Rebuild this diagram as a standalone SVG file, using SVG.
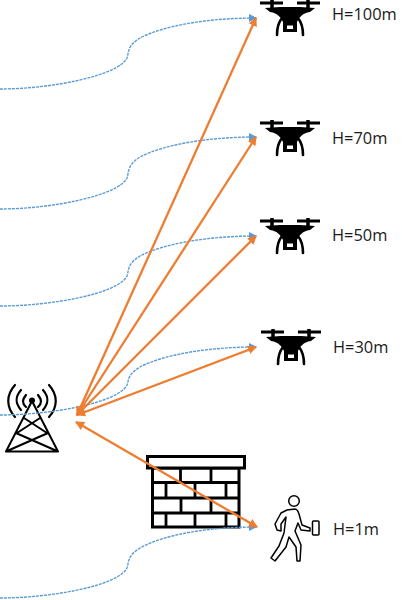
<svg xmlns="http://www.w3.org/2000/svg" width="402" height="600" viewBox="0 0 402 600">
<style>
text{font-family:"Open Sans","Liberation Sans",sans-serif;font-size:16.4px;fill:#1a1a1a}
.b{fill:none;stroke:#5b9bd5;stroke-width:1.4;stroke-dasharray:3 1;marker-end:url(#ab)}
.o{stroke:#ed7d31;stroke-width:2.300;marker-end:url(#ao);marker-start:url(#as)}
.k{fill:none;stroke:#000;stroke-linejoin:round;stroke-linecap:round}
</style>
<defs>
<marker id="ab" markerUnits="userSpaceOnUse" markerWidth="9" markerHeight="9" refX="7" refY="4" orient="auto"><path d="M0,0L8,4L0,8Z" fill="#5b9bd5"/></marker>
<marker id="ao" markerUnits="userSpaceOnUse" markerWidth="10" markerHeight="10" refX="8" refY="4.500" orient="auto"><path d="M0,0L9,4.500L0,9Z" fill="#ed7d31"/></marker>
<marker id="as" markerUnits="userSpaceOnUse" markerWidth="10" markerHeight="10" refX="1" refY="4.500" orient="auto"><path d="M9,0L0,4.500L9,9Z" fill="#ed7d31"/></marker>
<g id="drone">
<path d="M-30,3H-7M7,3H30" stroke="#000" stroke-width="2.800" fill="none"/>
<path d="M-18,0V11M18,0V11" stroke="#000" stroke-width="3.500" fill="none"/>
<path d="M-25,8L-10,7H10L25,8L20,12C12,13 9,18 7,22H-7C-9,18 -12,13 -20,12Z" fill="#000"/>
<path d="M-8,18C-12,23 -13,28 -13,35M8,18C12,23 13,28 13,35" class="k" stroke-width="2.600"/>
<path d="M-7,21H7V32H-7Z M-3,25.500V29H3V25.500Z" fill="#000" fill-rule="evenodd"/>
</g>
</defs>
<g id="tower">
<circle cx="32" cy="400.500" r="3" fill="#000"/>
<path class="k" stroke-width="2" d="M32,401L6,451.500H58ZM24,418L47,433M40,418L17,433M16,433L58,451.500M48,433L6,451.500"/>
<path class="k" stroke-width="2.200" d="M26,395C22,400 22,403 26,407M38,395C42,400 42,403 38,407M21,390C15,397 15,403 21,410M43,390C49,397 49,403 43,410M15,385C6,395 6,407 15,417M49,385C58,395 58,407 49,417"/>
</g>
<g id="wall">
<rect x="152.500" y="468" width="86.500" height="59" fill="#fff" stroke="#000" stroke-width="3"/>
<path fill="none" stroke="#000" stroke-width="2.800" d="M152,482.500H239M152,498H239M152,513H239M180.500,468V482M211,468V482M166,482V498M195,482V498M226,482V498M181,498V513M211,498V513M166,513V527M195,513V527M226,513V527"/>
<rect x="147.500" y="456.500" width="97" height="11.500" fill="#fff" stroke="#000" stroke-width="3"/>
</g>
<g id="connectors">
<path class="b" d="M0,89C50,89 118,76 127,58C129,52 127,46 140,38C165,25 210,18 256,18"/>
<path class="b" d="M0,209C50,209 118,196 127,178C129,172 127,165 140,157C165,144 210,137 256,137"/>
<path class="b" d="M0,306C50,306 118,294 127,276C129,270 127,264 140,256C165,243 210,236 256,236"/>
<path class="b" d="M0,415C50,415 118,403 127,385C129,380 127,375 140,367C165,354 210,347 256,347"/>
<path class="b" d="M0,598C50,598 118,586 127,568C129,562 127,556 140,548C165,534 210,527 256,527"/>
<line class="o" x1="77" y1="415" x2="256" y2="18"/>
<line class="o" x1="77" y1="415" x2="256" y2="137"/>
<line class="o" x1="77" y1="415" x2="256" y2="236"/>
<line class="o" x1="77" y1="415" x2="256" y2="347"/>
<line class="o" x1="76" y1="422" x2="257" y2="527"/>
</g>
<g id="drone100"><use href="#drone" x="290" y="0"/><text x="332" y="20">H=100m</text></g>
<g id="drone70"><use href="#drone" x="290" y="120"/><text x="332" y="144">H=70m</text></g>
<g id="drone50"><use href="#drone" x="290" y="218"/><text x="332" y="241">H=50m</text></g>
<g id="drone30"><use href="#drone" x="291" y="329"/><text x="333" y="353">H=30m</text></g>
<g id="person">
<circle cx="294" cy="501" r="5.300" class="k" stroke-width="1.500"/>
<path class="k" stroke-width="1.500" d="M287,510L295,509C297,509 298,511 299,514L302,525L310,528L310,531L301,530L298,523L295,531L301,545L300,561L297,561L296,547L289,537L286,547L275,561L271,558L279,546L284,533L286,517L281,524L281,531L277,530L275,524L281,513Z"/>
<rect x="312.500" y="521" width="6.500" height="14" rx="1" class="k" stroke-width="1.500"/>
<text x="333" y="535">H=1m</text>
</g>
</svg>
